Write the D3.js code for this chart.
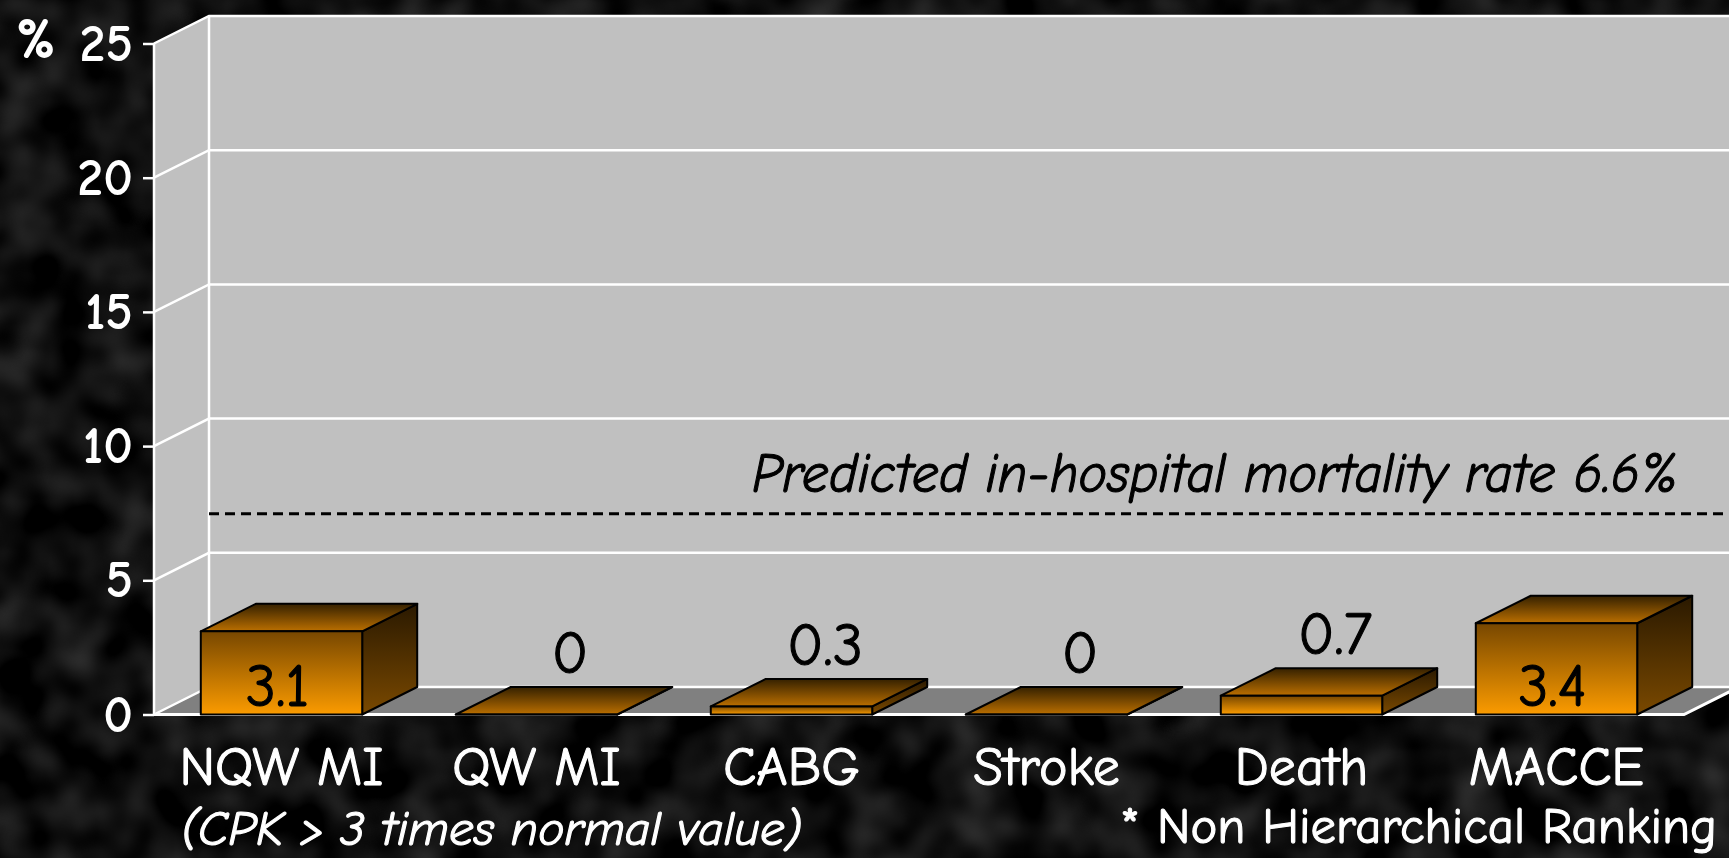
<!DOCTYPE html>
<html>
<head>
<meta charset="utf-8">
<script src="https://cdn.jsdelivr.net/npm/d3@7"></script>
<style>
  html, body { margin: 0; padding: 0; background: #000; overflow: hidden; }
  svg { display: block; }
  text { font-family: "Comic Sans MS", "Comic Neue", "DejaVu Sans", sans-serif; }
  /* comic strokes in the slide are a bit heavier than the fallback font */
  .heavy { stroke-width: 1.1px; stroke-linejoin: round; }
</style>
</head>
<body>
<svg id="chart"></svg>
<script>
const categories = ["NQW MI", "QW MI", "CABG", "Stroke", "Death", "MACCE"];
const values = [3.1, 0, 0.3, 0, 0.7, 3.4];
const yTicks = [0, 5, 10, 15, 20, 25];
const predicted = 6.6;
const predictedLabel = "Predicted in-hospital mortality rate 6.6%";
const footLeft = "(CPK > 3 times normal value)";
const footRight = "* Non Hierarchical Ranking";

const W = 1729, H = 858;
// front plane of the 3d box + its depth offset
const frontX0 = 154, frontX1 = 1684;
const dx = 55, dy = -27.5;

const svg = d3.select("#chart").attr("width", W).attr("height", H);
const defs = svg.append("defs");

// chalkboard-ish background, kept dark
const noise = defs.append("filter").attr("id", "noise")
  .attr("x", 0).attr("y", 0).attr("width", "100%").attr("height", "100%");
noise.append("feTurbulence").attr("type", "fractalNoise")
  .attr("baseFrequency", 0.02).attr("numOctaves", 2).attr("seed", 7);
noise.append("feColorMatrix").attr("type", "matrix")
  .attr("values", "0 0 0 0 0.12  0 0 0 0 0.12  0 0 0 0 0.12  0.9 0 0 0 -0.3");

svg.append("rect").attr("width", W).attr("height", H).attr("fill", "#000");
svg.append("rect").attr("width", W).attr("height", H).attr("filter", "url(#noise)");

function vGrad(id, stops) {
  const g = defs.append("linearGradient").attr("id", id)
    .attr("x1", 0).attr("y1", 0).attr("x2", 0).attr("y2", 1);
  stops.forEach(([o, c]) => g.append("stop").attr("offset", o).attr("stop-color", c));
}
vGrad("gFront", [[0, "#774700"], [1, "#fb9b00"]]);
vGrad("gTop", [[0, "#352100"], [1, "#bb6f00"]]);
vGrad("gSide", [[0, "#2a1900"], [1, "#7a4900"]]);

const y = d3.scaleLinear().domain([0, 25]).range([714.5, 43.5]);
const x = d3.scaleBand().domain(categories).range([frontX0, frontX1]);
const barW = x.bandwidth() * 0.633;

const line = d3.line();
const y0 = y(0), yTop = y(25);

// walls + floor
svg.append("path")
  .attr("d", line([[frontX0, y0], [frontX0, yTop], [frontX0 + dx, yTop + dy], [frontX0 + dx, y0 + dy]]) + "Z")
  .attr("fill", "#c0c0c0");
svg.append("rect")
  .attr("x", frontX0 + dx).attr("y", yTop + dy)
  .attr("width", W - frontX0 - dx + 20).attr("height", y0 - yTop)
  .attr("fill", "#c0c0c0");
svg.append("path")
  .attr("d", line([[frontX0, y0], [frontX1, y0], [frontX1 + dx, y0 + dy], [frontX0 + dx, y0 + dy]]) + "Z")
  .attr("fill", "#808080");

// gridlines: slanted on side wall, flat on back wall
svg.append("g").selectAll("path").data(yTicks).join("path")
  .attr("d", t => line([[frontX0, y(t)], [frontX0 + dx, y(t) + dy], [W + 20, y(t) + dy]]))
  .attr("fill", "none").attr("stroke", "#fff").attr("stroke-width", 2.5);

svg.append("path")
  .attr("d", line([[frontX0, y0], [frontX0, yTop]]) + line([[frontX0 + dx, y0 + dy], [frontX0 + dx, yTop + dy]]))
  .attr("stroke", "#fff").attr("stroke-width", 2.5);
svg.append("path")
  .attr("d", line([[frontX0, y0], [frontX1, y0], [frontX1 + dx, y0 + dy]]))
  .attr("fill", "none").attr("stroke", "#fff").attr("stroke-width", 3);

// predicted mortality reference line on the back wall
const yPred = y(predicted) + dy;
svg.append("line")
  .attr("x1", frontX0 + dx).attr("x2", W)
  .attr("y1", yPred + 4).attr("y2", yPred + 4)
  .attr("stroke", "#000").attr("stroke-width", 3).attr("stroke-dasharray", "10,6");
svg.append("text").attr("class", "heavy")
  .attr("x", 752).attr("y", 492)
  .attr("font-size", 56).attr("font-style", "italic").attr("fill", "#000").attr("stroke", "#000")
  .attr("textLength", 926).attr("lengthAdjust", "spacingAndGlyphs")
  .text(predictedLabel);

// 3d bars
const data = categories.map((c, i) => ({ c, v: values[i] }));
const bars = svg.append("g").selectAll("g").data(data).join("g")
  .attr("stroke", "#000").attr("stroke-width", 2).attr("stroke-linejoin", "round");

bars.each(function (d) {
  const g = d3.select(this);
  const bx0 = x(d.c) + (x.bandwidth() - barW) / 2, bx1 = bx0 + barW;
  const yt = y(d.v);
  g.append("path").attr("fill", "url(#gSide)")
    .attr("d", line([[bx1, yt], [bx1 + dx, yt + dy], [bx1 + dx, y0 + dy], [bx1, y0]]) + "Z");
  g.append("path").attr("fill", "url(#gTop)")
    .attr("d", line([[bx0, yt], [bx1, yt], [bx1 + dx, yt + dy], [bx0 + dx, yt + dy]]) + "Z");
  g.append("path").attr("fill", "url(#gFront)")
    .attr("d", line([[bx0, yt], [bx1, yt], [bx1, y0], [bx0, y0]]) + "Z");
  d.cx = (bx0 + bx1) / 2;
  d.yt = yt;
});

// value labels: inside tall bars, above flat ones
svg.append("g").selectAll("text").data(data).join("text").attr("class", "heavy")
  .attr("text-anchor", "middle").attr("font-size", 60).attr("fill", "#000").attr("stroke", "#000")
  .attr("x", d => d.v >= 2 ? d.cx - 4 : d.cx + dx / 2 + 6)
  .attr("y", d => d.v >= 2 ? y0 - 9 : d.yt + dy - 14)
  .text(d => d.v);

// y axis on the front plane
const yAxis = svg.append("g")
  .attr("transform", `translate(${frontX0},0)`)
  .call(d3.axisLeft(y).tickValues(yTicks).tickSize(11).tickPadding(10).tickFormat(d3.format("d")));
yAxis.select(".domain").remove();
yAxis.selectAll(".tick line").attr("stroke", "#fff").attr("stroke-width", 2.5);
yAxis.selectAll(".tick text")
  .attr("fill", "#fff").attr("font-size", 52).attr("font-weight", "bold")
  .attr("font-family", "\"Comic Sans MS\", \"Comic Neue\", \"DejaVu Sans\", sans-serif");

svg.append("text")
  .attr("x", 16).attr("y", 58)
  .attr("font-size", 58).attr("font-weight", "bold").attr("fill", "#fff")
  .text("%");

// category labels
svg.append("g").selectAll("text").data(data).join("text").attr("class", "heavy")
  .attr("text-anchor", "middle").attr("font-size", 54).attr("fill", "#fff").attr("stroke", "#fff")
  .attr("x", d => d.cx).attr("y", 785)
  .text(d => d.c);

svg.append("text").attr("class", "heavy")
  .attr("x", 181).attr("y", 845)
  .attr("font-size", 48).attr("font-style", "italic").attr("fill", "#fff").attr("stroke", "#fff")
  .attr("textLength", 621).attr("lengthAdjust", "spacingAndGlyphs")
  .text(footLeft);
svg.append("text").attr("class", "heavy")
  .attr("x", 1120).attr("y", 843)
  .attr("font-size", 50).attr("fill", "#fff").attr("stroke", "#fff")
  .attr("textLength", 597).attr("lengthAdjust", "spacingAndGlyphs")
  .text(footRight);
</script>
</body>
</html>
